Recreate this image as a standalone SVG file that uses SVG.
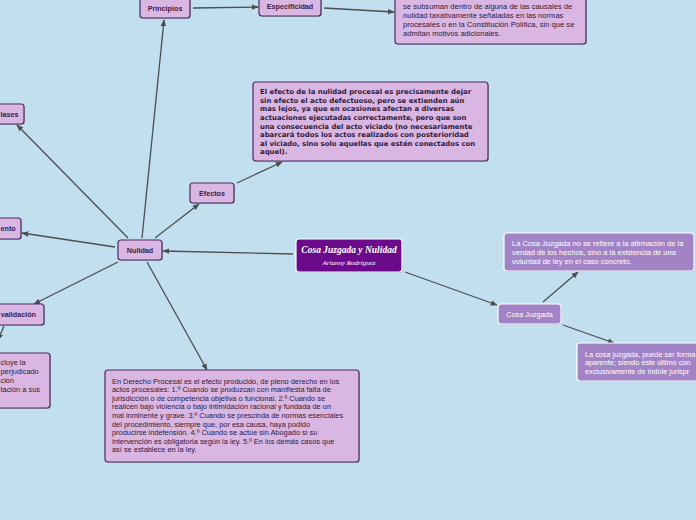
<svg xmlns="http://www.w3.org/2000/svg" width="696" height="520" viewBox="0 0 696 520">
<defs>
<marker id="ah" viewBox="0 0 10 10" refX="9" refY="5" markerWidth="7" markerHeight="7" orient="auto" markerUnits="userSpaceOnUse"><path d="M0,1 L10,5 L0,9 z" fill="#4d4d4d"/></marker>
</defs>
<style>
.bg{fill:#c2dff0}
.n{fill:#dab6e2;stroke:#4b2a5c;stroke-width:1.2}
.sh{fill:#000;opacity:0.18}
.p{fill:#a283c5;stroke:#ffffff;stroke-width:1.2}
.lbl{font-family:"Liberation Sans",Arial,sans-serif;font-size:7.2px;font-weight:bold;fill:#3a2048;text-anchor:middle}
.txt{font-family:"Liberation Sans",Arial,sans-serif;font-size:7.4px;fill:#2d1a3a}
.btxt{font-family:"DejaVu Sans",Verdana,sans-serif;font-size:6.9px;font-weight:bold;fill:#2d1a3a}
.wtxt{font-family:"Liberation Sans",Arial,sans-serif;font-size:7.5px;fill:#ffffff}
.c{stroke:#4d4d4d;stroke-width:1.3;fill:none;marker-end:url(#ah)}
</style>
<rect class="bg" x="0" y="0" width="696" height="520"/>
<g id="connectors">
<line class="c" x1="142" y1="238" x2="164" y2="20"/>
<line class="c" x1="193" y1="8" x2="258" y2="7"/>
<line class="c" x1="324" y1="8" x2="394" y2="12"/>
<line class="c" x1="155" y1="238" x2="199" y2="204"/>
<line class="c" x1="237" y1="183" x2="282" y2="162"/>
<line class="c" x1="128" y1="238" x2="17" y2="125"/>
<line class="c" x1="115" y1="247" x2="22" y2="233"/>
<line class="c" x1="118" y1="262" x2="34" y2="304"/>
<line class="c" x1="4" y1="326" x2="-2" y2="340"/>
<line class="c" x1="147" y1="262" x2="207" y2="370"/>
<line class="c" x1="293" y1="254" x2="163" y2="251"/>
<line class="c" x1="405" y1="272" x2="497" y2="305"/>
<line class="c" x1="543" y1="302" x2="578" y2="272"/>
<line class="c" x1="563" y1="325" x2="614" y2="343"/>
</g>
<g id="principios">
<rect class="sh" x="141" y="-3" width="50" height="22" rx="3"/>
<rect class="n" x="140" y="-4" width="50" height="22" rx="3"/>
<text class="lbl" x="165" y="11">Principios</text>
</g>
<g id="especificidad">
<rect class="sh" x="260" y="-3" width="62" height="20" rx="3"/>
<rect class="n" x="259" y="-4" width="62" height="20" rx="3"/>
<text class="lbl" x="290" y="9">Especificidad</text>
</g>
<g id="especificidad-texto">
<rect class="sh" x="396" y="-9" width="191" height="54" rx="3"/>
<rect class="n" x="395" y="-10" width="191" height="54" rx="3"/>
<text class="txt" x="403" y="9" style="font-size:7.6px">se subsuman dentro de alguna de las causales de</text>
<text class="txt" x="403" y="18" style="font-size:7.6px">nulidad taxativamente señaladas en las normas</text>
<text class="txt" x="403" y="27" style="font-size:7.6px">procesales o en la Constitución Política, sin que se</text>
<text class="txt" x="403" y="36" style="font-size:7.6px">admitan motivos adicionales.</text>
</g>
<g id="efectos-texto">
<rect class="sh" x="254" y="83" width="235" height="79" rx="3"/>
<rect class="n" x="253" y="82" width="235" height="79" rx="3"/>
<text class="btxt" x="260" y="94.2">El efecto de la nulidad procesal es precisamente dejar</text>
<text class="btxt" x="260" y="102.8">sin efecto el acto defectuoso, pero se extienden aún</text>
<text class="btxt" x="260" y="111.4">mas lejos, ya que en ocasiones afectan a diversas</text>
<text class="btxt" x="260" y="120">actuaciones ejecutadas correctamente, pero que son</text>
<text class="btxt" x="260" y="128.6">una consecuencia del acto viciado (no necesariamente</text>
<text class="btxt" x="260" y="137.2">abarcará todos los actos realizados con posterioridad</text>
<text class="btxt" x="260" y="145.8">al viciado, sino solo aquellas que estén conectados con</text>
<text class="btxt" x="260" y="154.4">aquel).</text>
</g>
<g id="efectos">
<rect class="sh" x="191" y="184" width="44" height="20" rx="3"/>
<rect class="n" x="190" y="183" width="44" height="20" rx="3"/>
<text class="lbl" x="212" y="196">Efectos</text>
</g>
<g id="clases">
<rect class="sh" x="-19" y="105" width="44" height="20" rx="3"/>
<rect class="n" x="-20" y="104" width="44" height="20" rx="3"/>
<text class="lbl" x="0.5" y="117" style="text-anchor:start">lases</text>
</g>
<g id="ento">
<rect class="sh" x="-29" y="219" width="51" height="21" rx="3"/>
<rect class="n" x="-30" y="218" width="51" height="21" rx="3"/>
<text class="lbl" x="0.5" y="231" style="text-anchor:start">ento</text>
</g>
<g id="convalidacion">
<rect class="sh" x="-29" y="305" width="74" height="21" rx="3"/>
<rect class="n" x="-30" y="304" width="74" height="21" rx="3"/>
<text class="lbl" x="36" y="317" style="text-anchor:end">validación</text>
</g>
<g id="convalidacion-texto">
<rect class="sh" x="-19" y="354" width="70" height="55" rx="3"/>
<rect class="n" x="-20" y="353" width="70" height="55" rx="3"/>
<text class="txt" x="0.5" y="364.5">cluye la</text>
<text class="txt" x="0.5" y="373.5">perjudicado</text>
<text class="txt" x="0.5" y="382.5">ción</text>
<text class="txt" x="0.5" y="391.5">tación a sus</text>
</g>
<g id="nulidad">
<rect class="sh" x="119" y="241" width="44" height="20" rx="3"/>
<rect class="n" x="118" y="240" width="44" height="20" rx="3"/>
<text class="lbl" x="140" y="253">Nulidad</text>
</g>
<g id="nulidad-texto">
<rect class="sh" x="106" y="371" width="254" height="92" rx="3"/>
<rect class="n" x="105" y="370" width="254" height="92" rx="3"/>
<text class="txt" x="112" y="383.5">En Derecho Procesal es el efecto producido, de pleno derecho en los</text>
<text class="txt" x="112" y="392.1">actos procesales: 1.º Cuando se produzcan con manifiesta falta de</text>
<text class="txt" x="112" y="400.7">jurisdicción o de competencia objetiva o funcional. 2.º Cuando se</text>
<text class="txt" x="112" y="409.3">realicen bajo violencia o bajo intimidación racional y fundada de un</text>
<text class="txt" x="112" y="417.9">mal inminente y grave. 3.º Cuando se prescinda de normas esenciales</text>
<text class="txt" x="112" y="426.5">del procedimiento, siempre que, por esa causa, haya podido</text>
<text class="txt" x="112" y="435.1">producirse indefensión. 4.º Cuando se actúe sin Abogado si su</text>
<text class="txt" x="112" y="443.7">intervención es obligatoria según la ley. 5.º En los demás casos que</text>
<text class="txt" x="112" y="452.3">así se establece en la ley.</text>
</g>
<g id="main">
<rect class="sh" x="297" y="240" width="106" height="33" rx="3"/>
<rect x="296" y="239" width="106" height="33" rx="3" fill="#6b0b8b" stroke="#ffffff" stroke-width="1.2"/>
<text x="349" y="253" text-anchor="middle" font-family="'Liberation Serif','DejaVu Serif',serif" font-style="italic" font-weight="bold" font-size="9.5" fill="#ffffff">Cosa Juzgada y Nulidad</text>
<text x="349" y="264.5" text-anchor="middle" font-family="'Liberation Serif','DejaVu Serif',serif" font-style="italic" font-size="7" fill="#ffffff">Arianny Rodríguez</text>
</g>
<g id="cosa-juzgada">
<rect class="sh" x="499" y="305" width="63" height="20" rx="3"/>
<rect class="p" x="498" y="304" width="63" height="20" rx="3"/>
<text class="wtxt" x="529.5" y="316.5" text-anchor="middle" style="font-size:7.3px">Cosa Juzgada</text>
</g>
<g id="cosa-juzgada-texto1">
<rect class="sh" x="505" y="234" width="190" height="38" rx="3"/>
<rect class="p" x="504" y="233" width="190" height="38" rx="3"/>
<text class="wtxt" x="512" y="245.5">La Cosa Juzgada no se refiere a la afirmación de la</text>
<text class="wtxt" x="512" y="254.5">verdad de los hechos, sino a la existencia de una</text>
<text class="wtxt" x="512" y="263.5">voluntad de ley en el caso concreto.</text>
</g>
<g id="cosa-juzgada-texto2">
<rect class="sh" x="578" y="344" width="130" height="38" rx="3"/>
<rect class="p" x="577" y="343" width="130" height="38" rx="3"/>
<text class="wtxt" x="585" y="356.5" style="font-size:7.3px">La cosa juzgada, puede ser forma</text>
<text class="wtxt" x="585" y="365" style="font-size:7.3px">aparente; siendo este último con</text>
<text class="wtxt" x="585" y="373.5" style="font-size:7.3px">exclusivamente de índole jurispr</text>
</g>
</svg>
